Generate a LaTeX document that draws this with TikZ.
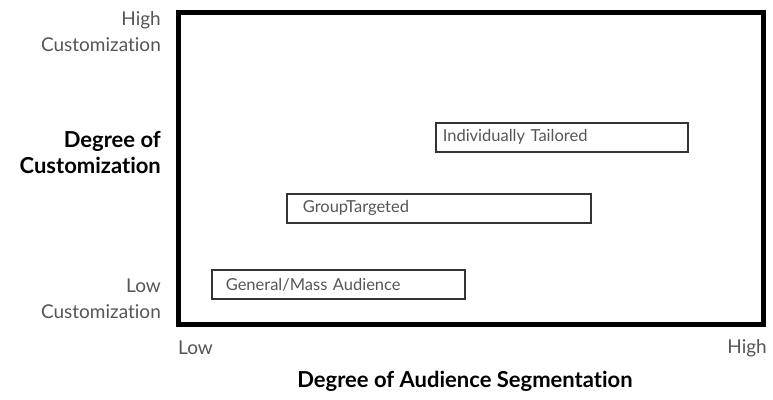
\documentclass[tikz,border=0pt]{standalone}
\usepackage{fontspec}
\setmainfont{Lato}[RawFeature={-liga;-clig;-calt;-dlig}]
\usetikzlibrary{positioning}

\definecolor{labelgray}{HTML}{555555}
\definecolor{boxgray}{HTML}{333333}

\tikzset{
    axislabel/.style={text=labelgray, font=\fontsize{19}{26}\selectfont, inner sep=0pt},
    axistitle/.style={text=black, font=\bfseries\fontsize{22}{26}\selectfont, inner sep=0pt},
    segbox/.style={draw=boxgray, line width=1.6pt, text=labelgray, font=\fontsize{16.5}{18}\selectfont,
        anchor=north west, minimum height=29pt, inner ysep=0pt, text width=#1, align=left}
}

\begin{document}
\begin{tikzpicture}[x=1pt,y=-1pt]
    \useasboundingbox (0,0) rectangle (773,399);

    % Frame
    \draw[line width=5pt] (178,12) rectangle (763,324);

    % Segmentation boxes
    \node[segbox=238pt, inner xsep=7pt] (indiv) at (435,122) {Individually Tailored};
    \node[segbox=272pt, inner xsep=16pt] (group) at (286,193) {GroupTargeted};
    \node[segbox=225pt, inner xsep=14pt] (mass) at (211,269) {General/Mass Audience};

    % Vertical axis labels
    \node[axislabel, anchor=east, align=right] (highcust) at (161,32) {High\\Customization};
    \node[axistitle, anchor=east, align=right] (ytitle) at (161,152) {Degree of\\Customization};
    \node[axislabel, anchor=east, align=right] (lowcust) at (161,299) {Low\\Customization};

    % Horizontal axis labels
    \node[axislabel, anchor=west] (lowseg) at (178,348) {Low};
    \node[axislabel, anchor=east] (highseg) at (767,348) {High};
    \node[axistitle] (xtitle) at (465,381) {Degree of Audience Segmentation};
\end{tikzpicture}
\end{document}
